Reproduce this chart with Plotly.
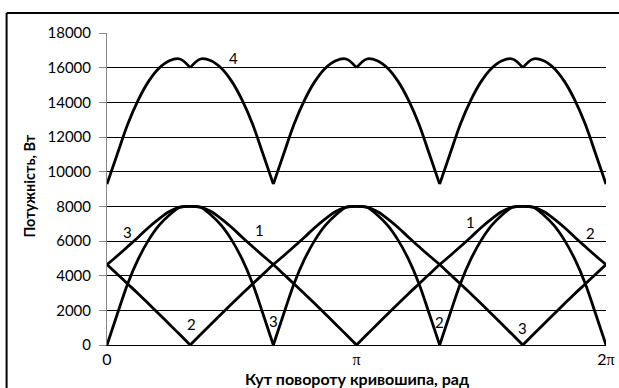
import plotly.graph_objects as go

# crank angle, degrees (step 7.5)
angle = [0, 7.5, 15, 22.5, 30, 37.5, 45, 52.5, 60, 67.5, 75, 82.5, 90, 97.5, 105, 112.5,
         120, 127.5, 135, 142.5, 150, 157.5, 165, 172.5, 180, 187.5, 195, 202.5, 210, 217.5,
         225, 232.5, 240, 247.5, 255, 262.5, 270, 277.5, 285, 292.5, 300, 307.5, 315, 322.5,
         330, 337.5, 345, 352.5, 360]

# power, W
p1 = [0, 1800, 3550, 4950, 6050, 6900, 7500, 7950, 8000, 7950, 7700, 7280, 6780, 6220, 5680, 5150,
      4640, 4080, 3520, 2960, 2380, 1790, 1200, 600, 0, 600, 1200, 1790, 2380, 2960, 3520, 4080,
      4640, 5150, 5680, 6220, 6780, 7280, 7700, 7950, 8000, 7950, 7500, 6900, 6050, 4950, 3550, 1800, 0]
p2 = [4640, 4080, 3520, 2960, 2380, 1790, 1200, 600, 0, 600, 1200, 1790, 2380, 2960, 3520, 4080,
      4640, 5150, 5680, 6220, 6780, 7280, 7700, 7950, 8000, 7950, 7500, 6900, 6050, 4950, 3550, 1800,
      0, 1800, 3550, 4950, 6050, 6900, 7500, 7950, 8000, 7950, 7700, 7280, 6780, 6220, 5680, 5150, 4640]
p3 = [4640, 5150, 5680, 6220, 6780, 7280, 7700, 7950, 8000, 7950, 7500, 6900, 6050, 4950, 3550, 1800,
      0, 1800, 3550, 4950, 6050, 6900, 7500, 7950, 8000, 7950, 7700, 7280, 6780, 6220, 5680, 5150,
      4640, 4080, 3520, 2960, 2380, 1790, 1200, 600, 0, 600, 1200, 1790, 2380, 2960, 3520, 4080, 4640]
p4 = [9280, 11030, 12750, 14130, 15210, 15970, 16400, 16500, 16000, 16500, 16400, 15970, 15210, 14130, 12750, 11030,
      9280, 11030, 12750, 14130, 15210, 15970, 16400, 16500, 16000, 16500, 16400, 15970, 15210, 14130, 12750, 11030,
      9280, 11030, 12750, 14130, 15210, 15970, 16400, 16500, 16000, 16500, 16400, 15970, 15210, 14130, 12750, 11030, 9280]

# sample indices where a curve has a sharp corner
corners1 = [24]
corners2 = [8, 32]
corners3 = [16, 40]
corners4 = [8, 16, 24, 32, 40]

x_ticks = [0, 180, 360]
x_ticktext = ['0', '<span style="font-family:Liberation Serif">π</span>',
              '2<span style="font-family:Liberation Serif">π</span>']

# curve number labels: (text, angle, power)
labels = [('3', 15, 6520), ('1', 110, 6640), ('2', 61, 1210), ('3', 120, 1390),
          ('1', 262, 7100), ('2', 349, 6460), ('2', 240, 1330), ('3', 300, 980), ('4', 91, 16560)]

FONT = "Lato, 'Noto Sans', sans-serif"

fig = go.Figure()
for p, corners in [(p1, corners1), (p2, corners2), (p3, corners3), (p4, corners4)]:
    cuts = [0] + corners + [len(angle) - 1]
    # smooth each piece between corners so the corners stay sharp
    for a, b in zip(cuts[:-1], cuts[1:]):
        fig.add_trace(go.Scatter(x=angle[a:b + 1], y=p[a:b + 1], mode='lines',
                                 line=dict(color='black', width=2.8, shape='spline', smoothing=1),
                                 showlegend=False, hoverinfo='skip'))

for txt, a, v in labels:
    fig.add_annotation(x=a, y=v, text=txt, showarrow=False, font=dict(size=15, color='black', family=FONT))

fig.add_annotation(xref='paper', yref='paper', x=0.5, y=-0.106, text='<b>Кут повороту кривошипа, рад</b>',
                   showarrow=False, font=dict(size=16, color='black', family=FONT), yanchor='middle')
fig.add_annotation(xref='paper', yref='paper', x=-0.155, y=0.51, text='<b>Потужність, Вт</b>', textangle=-90,
                   showarrow=False, font=dict(size=14.5, color='black', family=FONT), xanchor='center')

# outer frame (only the top and left edges are in view)
fig.add_shape(type='line', xref='paper', yref='paper', x0=-0.2012, x1=1.05, y0=1.0641, y1=1.0641,
              line=dict(color='black', width=2))
fig.add_shape(type='line', xref='paper', yref='paper', x0=-0.2012, x1=-0.2012, y0=1.0641, y1=-0.2,
              line=dict(color='black', width=2))

fig.update_xaxes(range=[0, 360], tickvals=x_ticks, ticktext=x_ticktext, showgrid=False, zeroline=False,
                 showline=True, linecolor='black', linewidth=1, ticks='',
                 tickfont=dict(size=16, color='black', family=FONT))
fig.update_yaxes(range=[0, 18000], dtick=2000, tickformat='d', showgrid=True, gridcolor='black', gridwidth=1,
                 zeroline=False, showline=True, linecolor='#888888', linewidth=1, ticks='outside', ticklen=7,
                 tickcolor='#888888', ticklabelstandoff=5, tickfont=dict(size=15, color='black', family=FONT))
fig.update_layout(width=619, height=388, margin=dict(l=107, r=13, t=33, b=43, autoexpand=False),
                  plot_bgcolor='white', paper_bgcolor='white')
# drop the default page margin so the figure fills the window exactly
fig.write_html("out.html", config={'displayModeBar': False},
               post_script="document.body.style.margin='0';document.body.style.overflow='hidden';")
